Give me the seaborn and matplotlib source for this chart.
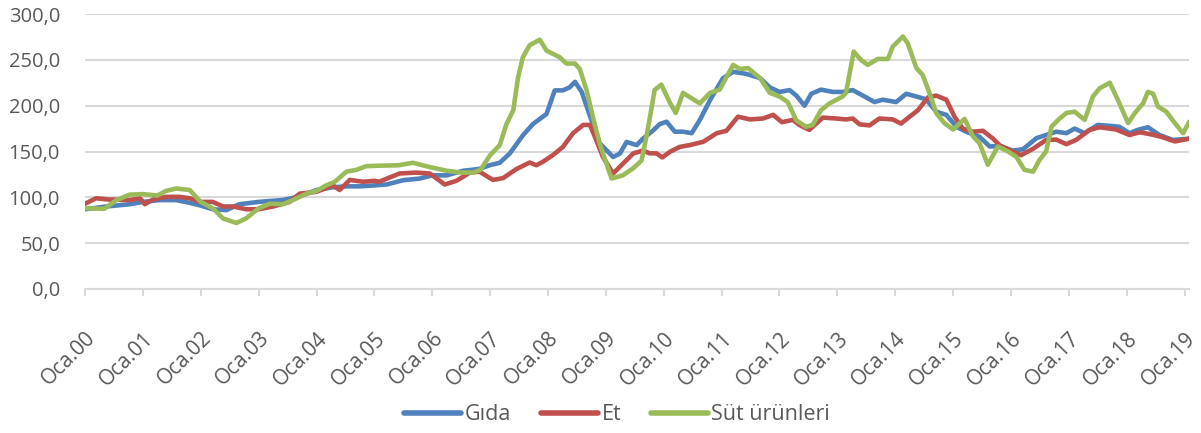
import pandas as pd
import numpy as np
import matplotlib
matplotlib.use("Agg")
import matplotlib.pyplot as plt
import matplotlib.transforms as mtrans
import seaborn as sns

# months since Oca.2000 and index values
gida_ay = [0, 4.4, 9.3, 12, 15.4, 18.9, 21.7, 24, 26.5, 29.3, 32, 36, 38.3, 41, 44.5, 48,
           51.4, 54.2, 57, 60, 62.5, 66, 69.4, 72, 75, 78.4, 81.8, 83.9, 86, 88.1, 90.8,
           92.9, 95.7, 97.4, 99.1, 100.5, 101.6, 103, 104.3, 106.7, 108.1, 109.5, 110.9,
           112.3, 114.4, 115.7, 117.8, 119.2, 120.6, 122.3, 124, 125.8, 127.5, 129.6, 132.3,
           134.4, 137.2, 140, 142, 144, 146.1, 147.5, 149.2, 150.6, 152.6, 155.1, 157.1,
           159.2, 161.3, 163.7, 165.4, 168.2, 170.3, 172.4, 174.4, 176.5, 178.6, 180.7,
           182.7, 185.5, 187.6, 189.6, 192.4, 194.5, 197.3, 199.3, 201.4, 203.5, 205.2,
           207.3, 210, 212.5, 214.5, 216.6, 218.3, 220.4, 222.8, 225.6, 229]
gida = [87, 90, 92.5, 95, 97, 97, 94, 91, 87, 86, 92.5, 95, 96, 97, 101, 108,
        111, 112, 112, 113, 114, 118.7, 120.5, 124, 124, 129, 131, 135, 137.7, 148, 167.7,
        180, 191, 216.7, 216.7, 220, 226, 215, 195, 159, 151.6, 144, 147.7,
        160.4, 157, 164, 173, 180, 182.5, 171.6, 171.6, 170, 184.5, 206, 230,
        237, 234.6, 230, 220, 215, 217, 211, 200, 213, 217.5, 215, 215,
        217, 211, 204, 206.5, 204, 213, 210, 207, 193.5, 190, 177,
        171.6, 166, 155.5, 156, 151, 152.5, 164.6, 168, 171.6, 170, 175,
        170, 179, 178, 177, 170, 173.6, 176.5, 168, 162.6, 164]

et_ay = [0, 2.3, 5, 9.3, 11.4, 12.4, 14.1, 16.8, 19.6, 21.7, 24, 26.5, 28.6, 30.7, 33.4,
         36, 39, 42.4, 44.5, 48, 51.4, 52.8, 54.9, 57.6, 60, 61, 65.2, 68.7, 71.5, 74.6,
         77, 79.8, 81.8, 84.6, 86.7, 89.5, 92.2, 93.6, 95, 97, 99.1, 101.2, 103.3, 104.7,
         106, 107.4, 109.5, 111.6, 113.7, 115.7, 117.1, 118.5, 119.7, 121.3, 123.3, 125.4,
         128.2, 131, 133, 135.4, 137.9, 140.6, 142.7, 144.5, 146.8, 148.1, 150.2, 153,
         155.8, 157.8, 159.2, 160.6, 162.7, 164.7, 167.5, 169.2, 171, 172.7, 174.8, 176.5,
         178.6, 180.3, 182, 184.1, 186.2, 188.3, 189.6, 191.7, 194.1, 196.6, 199.3, 201.4,
         203.5, 205.5, 208.3, 210.4, 213.8, 216.6, 218.7, 220.8, 223.2, 226, 229]
et = [93, 99, 97.6, 97, 99, 92.5, 97.6, 100.5, 100.5, 99, 95, 95, 90, 90, 87,
      87, 90, 95, 104, 106, 113, 108, 119, 117, 118, 117, 126, 127, 126, 114,
      118, 127, 128, 119, 121, 131, 138, 135, 139, 146, 155, 170, 179, 179,
      162.6, 144, 126, 137, 148, 151, 148, 148, 143.5, 149.7, 155, 157,
      160.6, 170, 172.6, 188, 185, 186, 190, 182, 184.5, 179, 173.6, 187,
      186, 185, 186, 179.6, 178.5, 186, 185, 180.5, 188, 195, 209, 211,
      206.5, 188, 175, 171.6, 172.6, 164, 157, 151.6, 146, 153, 162.6, 163,
      158, 162.6, 173.6, 176.5, 174, 168, 171, 169, 166, 161, 164]

sut_ay = [0, 4, 6.5, 9.3, 12, 15, 16.8, 18.9, 21.7, 23.1, 24, 26.5, 28.6, 31.4, 33.4, 36,
          38.3, 41, 43.1, 45.9, 48, 50, 51.8, 54.2, 56.3, 58.3, 61, 65, 68, 71.5, 75, 78,
          80.5, 82, 84, 86, 87.4, 88.8, 89.8, 90.8, 92.2, 94.3, 95.7, 97, 98.4, 99.8,
          101.6, 102.6, 104, 105.3, 106.7, 108.1, 109.2, 111.5, 113.6, 115.4, 116.4, 117.4,
          118.1, 119.5, 121.3, 122.5, 124, 126.1, 127.5, 129.6, 131.6, 134.4, 135.8, 137.5,
          140, 142, 144, 145.7, 147.5, 149.5, 150.9, 152.6, 154.4, 157.1, 157.8, 159.4,
          160.9, 162.3, 164.4, 166.5, 167.5, 169.6, 170.6, 172.4, 173.7, 175.1, 176.5,
          178.2, 180, 182.4, 184.1, 185.5, 187.2, 189.3, 191.4, 193.1, 194.8, 196.6, 197.9,
          199.3, 200.4, 202.1, 203.5, 205.2, 207.3, 209, 210.4, 212.5, 214.2, 216.3, 217.7,
          219.4, 220.4, 221.5, 222.5, 224.2, 226, 227.7, 229]
sut = [88, 87.5, 97, 103, 103.5, 102, 107, 109.6, 108, 100, 95, 88, 77, 72, 77, 88,
       93, 92.5, 97, 104, 107, 113, 117, 128, 130, 134, 134.5, 135, 137.7, 133, 129, 127,
       127, 130, 146, 157, 180, 195, 231, 253, 266, 272, 260, 256.6, 253, 246,
       246, 240, 217, 188, 159, 137, 120.5, 124, 131.4, 140, 166, 195,
       217, 223, 203, 192, 214, 207, 202.5, 214, 217.5, 244.5, 240, 241,
       230, 214, 210, 204, 184, 177, 179, 195, 202.5, 210, 214, 259,
       250, 244.5, 251, 251, 264.5, 275.5, 268, 241, 233.5, 214, 192,
       181, 174, 185.6, 166.7, 159, 135.6, 155.5, 150, 144.3, 130, 128, 140.6,
       150, 177, 186, 192, 193.5, 184.5, 210, 219, 225, 206, 181, 192,
       202.5, 215, 213, 199, 193.5, 181, 170, 182.5]

seriler = ["Gıda", "Et", "Süt ürünleri"]
renkler = ["#4F81BD", "#C0504D", "#9BBB59"]
yil_etiket = ["Oca.%02d" % y for y in range(0, 20)]

df = pd.concat([
    pd.DataFrame({"ay": gida_ay, "deger": gida, "seri": "Gıda"}),
    pd.DataFrame({"ay": et_ay, "deger": et, "seri": "Et"}),
    pd.DataFrame({"ay": sut_ay, "deger": sut, "seri": "Süt ürünleri"}),
])

sns.set_style("white")
plt.rcParams['font.family'] = ['Open Sans', 'DejaVu Sans']
gri = "#595959"

fig = plt.figure(figsize=(12.01, 4.33), dpi=100)
ax = fig.add_axes([0.0708, 0.3326, 0.9195, 0.635])

sns.lineplot(data=df, x="ay", y="deger", hue="seri", hue_order=seriler,
             palette=renkler, linewidth=3.3, sort=True, estimator=None, ax=ax)

ax.set_xlim(0, 229)
ax.set_ylim(0, 300)
ax.set_yticks(np.arange(0, 301, 50))
ax.set_yticklabels([("%.1f" % v).replace(".", ",") for v in np.arange(0, 301, 50)],
                   fontsize=14.5, color=gri)
ax.set_xticks(np.arange(0, 229, 12))
ax.set_xticklabels(yil_etiket, rotation=45, ha="right", va="top",
                   rotation_mode="anchor", fontsize=15, color=gri)
# nudge rotated labels a bit right, like the original
kay = mtrans.ScaledTranslation(0.06, 0, fig.dpi_scale_trans)
for t in ax.get_xticklabels():
    t.set_transform(t.get_transform() + kay)
ax.tick_params(axis="x", bottom=True, direction="out", length=5, width=1.5,
               color="#d9d9d9", pad=23)
ax.tick_params(axis="y", left=False, length=0, pad=18)
ax.grid(axis="y", color="#d9d9d9", linewidth=1.5)
ax.set_axisbelow(True)
for s in ["top", "right", "left"]:
    ax.spines[s].set_visible(False)
ax.spines["bottom"].set_color("#d9d9d9")
ax.spines["bottom"].set_linewidth(1.5)
ax.set_xlabel("")
ax.set_ylabel("")

h, l = ax.get_legend_handles_labels()
ax.legend_.remove()
leg = fig.legend(h, l, loc="center", bbox_to_anchor=(0.514, 0.042), ncol=3,
                 frameon=False, fontsize=15.5, handlelength=2.65, handletextpad=0.15,
                 columnspacing=1.4)
for t in leg.get_texts():
    t.set_color(gri)
for ln in leg.get_lines():
    ln.set_linewidth(4)

fig.savefig("out.png", dpi=100)
